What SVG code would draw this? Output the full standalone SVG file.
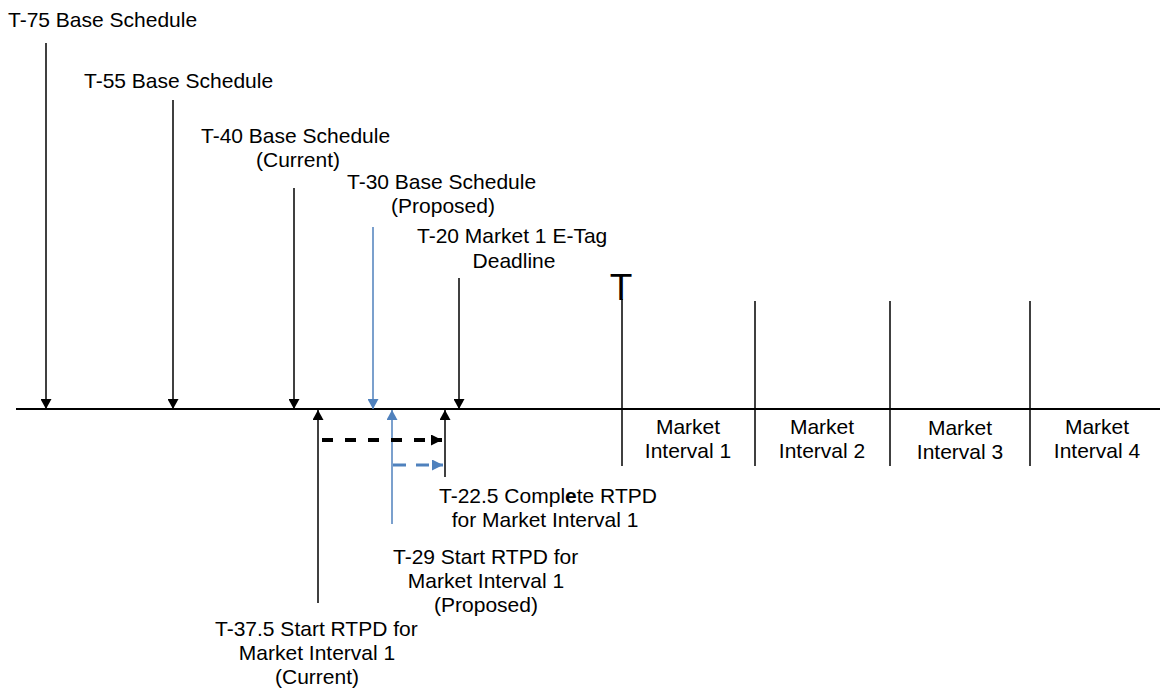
<svg xmlns="http://www.w3.org/2000/svg" width="1160" height="689" viewBox="0 0 1160 689">
<style>
  text { font-family: "Liberation Sans", Arial, sans-serif; font-size: 21px; fill: #000; }
  .c { text-anchor: middle; }
  .big { font-size: 37px; }
  .blk { stroke: #000; stroke-width: 1.5; fill: none; }
  .blu { stroke: #4F81BD; stroke-width: 1.5; fill: none; }
  .axis { stroke: #000; stroke-width: 2; }
  .mline { stroke: #000; stroke-width: 1.5; }
</style>
<defs>
  <marker id="ah" viewBox="0 0 10 10" refX="10" refY="5" markerUnits="userSpaceOnUse" markerWidth="10" markerHeight="11" orient="auto" preserveAspectRatio="none">
    <path d="M0,0 L10,5 L0,10 z" fill="#000" stroke="none"/>
  </marker>
  <marker id="ahb" viewBox="0 0 10 10" refX="10" refY="5" markerUnits="userSpaceOnUse" markerWidth="10" markerHeight="11" orient="auto" preserveAspectRatio="none">
    <path d="M0,0 L10,5 L0,10 z" fill="#4F81BD" stroke="none"/>
  </marker>
  <marker id="ahd" viewBox="0 0 10 10" refX="10" refY="5" markerUnits="userSpaceOnUse" markerWidth="11" markerHeight="11" orient="auto" preserveAspectRatio="none">
    <path d="M0,0 L10,5 L0,10 z" fill="#000" stroke="none"/>
  </marker>
  <marker id="ahdb" viewBox="0 0 10 10" refX="10" refY="5" markerUnits="userSpaceOnUse" markerWidth="11" markerHeight="11" orient="auto" preserveAspectRatio="none">
    <path d="M0,0 L10,5 L0,10 z" fill="#4F81BD" stroke="none"/>
  </marker>
</defs>

<g id="timeline">
  <line class="axis" x1="16" y1="409" x2="1160" y2="409"/>
</g>

<g id="connectors">
  <line class="blk" x1="46" y1="43" x2="46" y2="409" marker-end="url(#ah)"/>
  <line class="blk" x1="173" y1="100" x2="173" y2="409" marker-end="url(#ah)"/>
  <line class="blk" x1="294" y1="188" x2="294" y2="409" marker-end="url(#ah)"/>
  <line class="blu" x1="373" y1="227" x2="373" y2="409" marker-end="url(#ahb)"/>
  <line class="blk" x1="459" y1="278" x2="459" y2="409" marker-end="url(#ah)"/>
  <line class="blk" x1="318" y1="603" x2="318" y2="410" marker-end="url(#ah)"/>
  <line class="blu" x1="392" y1="524" x2="392" y2="410" marker-end="url(#ahb)"/>
  <line class="blk" x1="445" y1="477" x2="445" y2="410" marker-end="url(#ah)"/>
  <line x1="322" y1="440" x2="442" y2="440" stroke="#000" stroke-width="4" stroke-dasharray="11 12" marker-end="url(#ahd)"/>
  <line x1="393" y1="465" x2="443" y2="465" stroke="#4F81BD" stroke-width="3" stroke-dasharray="13 10" marker-end="url(#ahdb)"/>
</g>

<g id="t75"><text x="8" y="27">T-75 Base Schedule</text></g>
<g id="t55"><text x="84" y="88">T-55 Base Schedule</text></g>
<g id="t40">
  <text x="201" y="143">T-40 Base Schedule</text>
  <text class="c" x="298" y="167">(Current)</text>
</g>
<g id="t30">
  <text x="347" y="189">T-30 Base Schedule</text>
  <text class="c" x="443" y="213">(Proposed)</text>
</g>
<g id="t20">
  <text x="417" y="243">T-20 Market 1 E-Tag</text>
  <text class="c" x="514" y="268">Deadline</text>
</g>

<g id="t22_5">
  <text x="439" y="503">T-22.5 Compl<tspan font-weight="bold">e</tspan>te RTPD</text>
  <text class="c" x="545" y="527">for Market Interval 1</text>
</g>
<g id="t29">
  <text x="393" y="564">T-29 Start RTPD for</text>
  <text class="c" x="486" y="588">Market Interval 1</text>
  <text class="c" x="486" y="612">(Proposed)</text>
</g>
<g id="t37_5">
  <text x="215" y="636">T-37.5 Start RTPD for</text>
  <text class="c" x="317" y="660">Market Interval 1</text>
  <text class="c" x="317" y="684">(Current)</text>
</g>

<g id="market-start">
  <text class="c big" x="621" y="300">T</text>
  <line class="mline" x1="622" y1="299" x2="622" y2="466"/>
</g>
<g id="mi1">
  <text class="c" x="688" y="434">Market</text>
  <text class="c" x="688" y="458">Interval 1</text>
</g>
<g id="mi2">
  <line class="mline" x1="755" y1="301" x2="755" y2="466"/>
  <text class="c" x="822" y="434">Market</text>
  <text class="c" x="822" y="458">Interval 2</text>
</g>
<g id="mi3">
  <line class="mline" x1="890" y1="301" x2="890" y2="466"/>
  <text class="c" x="960" y="435">Market</text>
  <text class="c" x="960" y="459">Interval 3</text>
</g>
<g id="mi4">
  <line class="mline" x1="1030" y1="301" x2="1030" y2="466"/>
  <text class="c" x="1097" y="434">Market</text>
  <text class="c" x="1097" y="458">Interval 4</text>
</g>
</svg>
